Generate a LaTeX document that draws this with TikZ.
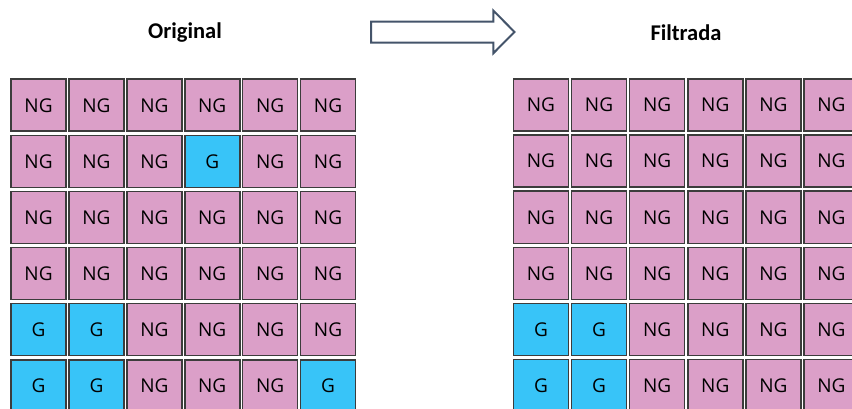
\documentclass[tikz,border=0pt]{standalone}
\usepackage{fontspec}
\setmainfont{Carlito}
\newfontfamily\cellfont{Open Sans}
\definecolor{pinkc}{HTML}{DB9FC8}
\definecolor{bluec}{HTML}{38C4F8}
\definecolor{edgec}{HTML}{3C3C3C}
\definecolor{arrowc}{HTML}{44546A}
\tikzset{
  cell/.style={draw=edgec, line width=1.5pt, minimum width=55pt, minimum height=52pt, inner sep=0pt, font=\cellfont\fontsize{19}{19}\selectfont, text=black},
  ngcell/.style={cell, fill=pinkc},
  gcell/.style={cell, fill=bluec},
  title/.style={font=\fontsize{22.5}{22.5}\selectfont\bfseries, text=black},
  blockarrow/.style={draw=arrowc, line width=2pt, fill=white, line join=miter}
}
\begin{document}
\begin{tikzpicture}[x=1pt,y=-1pt]
\useasboundingbox (0,0) rectangle (852,409);
\clip (0,0) rectangle (852,409);
% left grid
\foreach \r in {1,...,6}{
  \foreach \c in {1,...,6}{
    \pgfmathsetmacro{\xx}{10.3+28.25+(\c-1)*57.9}
    \pgfmathsetmacro{\yy}{78.5+26.75+(\r-1)*56.1}
    \def\kind{ngcell}\def\txt{NG}
    \ifnum\r=2 \ifnum\c=4 \def\kind{gcell}\def\txt{G}\fi\fi
    \ifnum\r>4 \ifnum\c<3 \def\kind{gcell}\def\txt{G}\fi\fi
    \ifnum\r=6 \ifnum\c=6 \def\kind{gcell}\def\txt{G}\fi\fi
    \node[\kind] (L-\r-\c) at (\xx,\yy) {\raisebox{-1.2pt}{\txt}};
  }
}
% right grid
\foreach \r in {1,...,6}{
  \foreach \c in {1,...,6}{
    \pgfmathsetmacro{\xx}{512.7+28.25+(\c-1)*58.1}
    \pgfmathsetmacro{\yy}{78.3+26.75+(\r-1)*56.1}
    \def\kind{ngcell}\def\txt{NG}
    \ifnum\r>4 \ifnum\c<3 \def\kind{gcell}\def\txt{G}\fi\fi
    \node[\kind] (R-\r-\c) at (\xx,\yy) {\raisebox{-1.2pt}{\txt}};
  }
}
\node[title] (torig) at (185,33) {Original};
\node[title] (tfilt) at (686,33) {Filtrada};
\draw[blockarrow] (371,21.7) -- (493.3,21.7) -- (493.3,10.5) -- (514.5,32) -- (493.3,53.3) -- (493.3,42.7) -- (371,42.7) -- cycle;
\end{tikzpicture}
\end{document}
